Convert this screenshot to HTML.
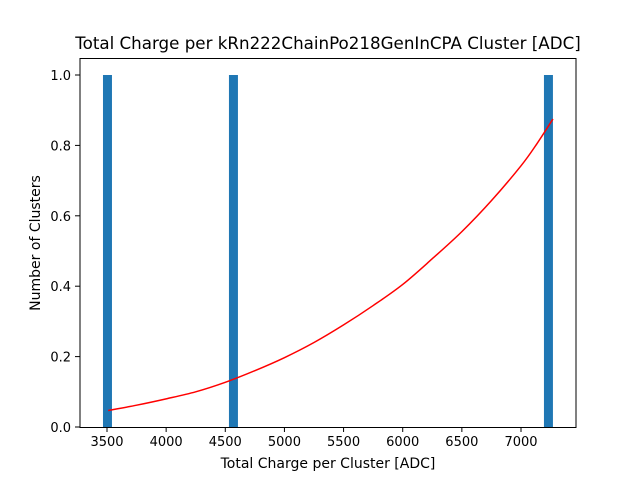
<!DOCTYPE html>
<html><head><meta charset="utf-8"><style>
body{margin:0;background:#fff}
svg{font-family:"DejaVu Sans","Liberation Sans",sans-serif}
</style></head><body>
<svg id="chart" width="640" height="480" xmlns="http://www.w3.org/2000/svg">
<rect width="640" height="480" fill="#fff"/>
<text x="328" y="49" font-size="16.7" text-anchor="middle">Total Charge per kRn222ChainPo218GenInCPA Cluster [ADC]</text>
<g id="bars"></g>
<path id="fit" fill="none" stroke="#ff0000" stroke-width="1.5"/>
<rect x="80" y="58.5" width="496" height="369" fill="none" stroke="#000" stroke-width="1"/>
<g id="xticks"></g><g id="yticks"></g>
<text x="328" y="468" font-size="14" text-anchor="middle">Total Charge per Cluster [ADC]</text>
<text transform="translate(40,243) rotate(-90)" font-size="14" text-anchor="middle">Number of Clusters</text>
</svg>
<script>
const binStarts=[3466,4531,7194];
const binWidth=76;
const counts=[1,1,1];
const fitX=[3510,3750,4000,4250,4500,4750,5000,5250,5500,5750,6000,6250,6500,6750,7000,7135,7270];
const fitY=[0.047,0.062,0.08,0.10,0.127,0.16,0.197,0.24,0.29,0.345,0.405,0.478,0.555,0.643,0.742,0.805,0.875];
const xTicks=[3500,4000,4500,5000,5500,6000,6500,7000];
const yTicks=[0,0.2,0.4,0.6,0.8,1.0];
const NS="http://www.w3.org/2000/svg";
const sx=v=>107+(v-3500)*0.118286;
const sy=v=>427-v*352;
const bars=document.getElementById('bars');
binStarts.forEach((b,i)=>{
 const r=document.createElementNS(NS,'rect');
 r.setAttribute('x',sx(b));r.setAttribute('width',sx(b+binWidth)-sx(b));
 r.setAttribute('y',sy(counts[i]));r.setAttribute('height',sy(0)-sy(counts[i]));
 r.setAttribute('fill','#1f77b4');
 
 
 bars.appendChild(r);
});
const P=fitX.map((x,i)=>[sx(x),sy(fitY[i])]);
let d='M'+P[0][0]+','+P[0][1];
for(let i=0;i<P.length-1;i++){
 const p0=P[Math.max(i-1,0)],p1=P[i],p2=P[i+1],p3=P[Math.min(i+2,P.length-1)];
 const c1=[p1[0]+(p2[0]-p0[0])/6,p1[1]+(p2[1]-p0[1])/6];
 const c2=[p2[0]-(p3[0]-p1[0])/6,p2[1]-(p3[1]-p1[1])/6];
 d+=' C'+c1+' '+c2+' '+p2;
}
document.getElementById('fit').setAttribute('d',d);
const xt=document.getElementById('xticks');
xTicks.forEach(t=>{
 const l=document.createElementNS(NS,'line');
 l.setAttribute('x1',sx(t));l.setAttribute('x2',sx(t));l.setAttribute('y1',427);l.setAttribute('y2',432);l.setAttribute('stroke','#000');
 
 
 xt.appendChild(l);
 const s=document.createElementNS(NS,'text');
 s.setAttribute('x',sx(t));s.setAttribute('y',446);s.setAttribute('font-size','13');s.setAttribute('text-anchor','middle');
 s.textContent=t;
 
 
 xt.appendChild(s);
});
const yt=document.getElementById('yticks');
yTicks.forEach(t=>{
 const l=document.createElementNS(NS,'line');
 l.setAttribute('x1',75);l.setAttribute('x2',80);l.setAttribute('y1',sy(t));l.setAttribute('y2',sy(t));l.setAttribute('stroke','#000');
 
 
 yt.appendChild(l);
 const s=document.createElementNS(NS,'text');
 s.setAttribute('x',71);s.setAttribute('y',sy(t)+5);s.setAttribute('font-size','13');s.setAttribute('text-anchor','end');
 s.textContent=t.toFixed(1);
 
 
 yt.appendChild(s);
});
</script>
</body></html>
